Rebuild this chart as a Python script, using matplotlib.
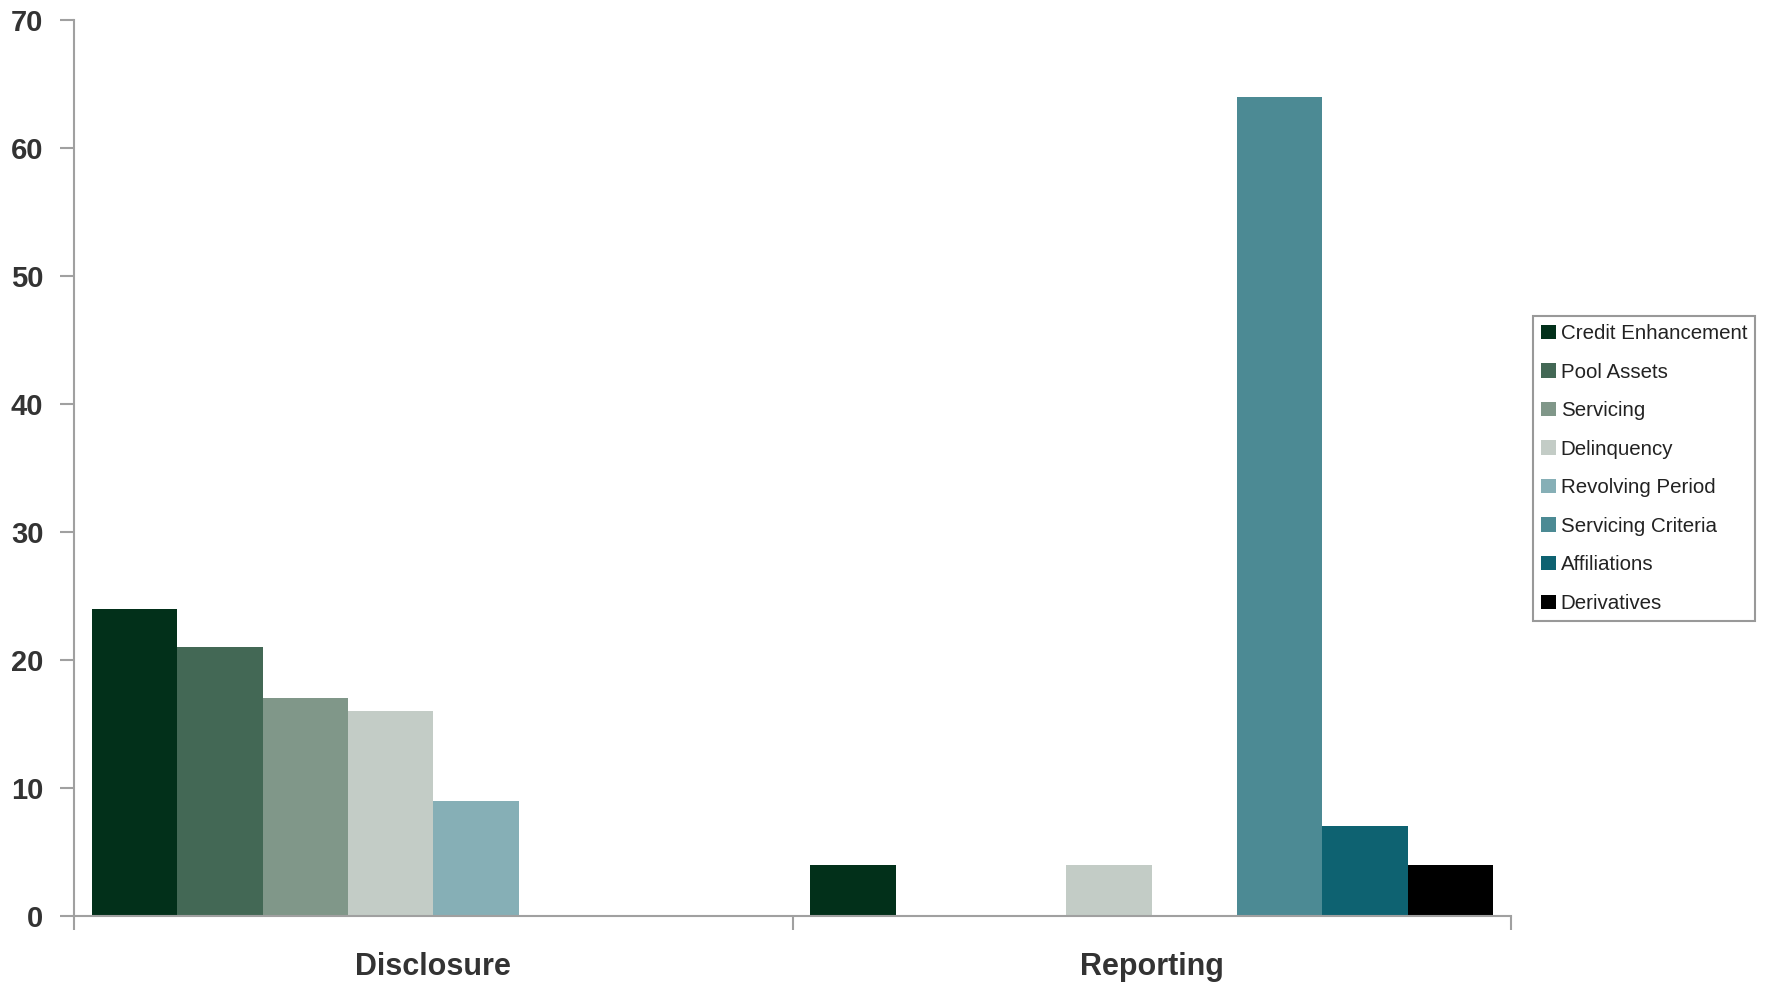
import numpy as np
import matplotlib
matplotlib.use("Agg")
import matplotlib.pyplot as plt
from matplotlib.patches import Patch

categories = ["Disclosure", "Reporting"]
series_names = ["Credit Enhancement", "Pool Assets", "Servicing", "Delinquency",
                "Revolving Period", "Servicing Criteria", "Affiliations", "Derivatives"]
credit_enhancement = [24, 4]
pool_assets = [21, 0]
servicing = [17, 0]
delinquency = [16, 4]
revolving_period = [9, 0]
servicing_criteria = [0, 64]
affiliations = [0, 7]
derivatives = [0, 4]
series_values = [credit_enhancement, pool_assets, servicing, delinquency,
                 revolving_period, servicing_criteria, affiliations, derivatives]
colors = ["#02301A", "#436855", "#809789", "#C3CCC6",
          "#86AFB6", "#4C8A94", "#0E6271", "#000000"]
yticks = [0, 10, 20, 30, 40, 50, 60, 70]

plt.rcParams['font.family'] = ['Liberation Sans', 'DejaVu Sans']

fig = plt.figure(figsize=(17.67, 9.86), dpi=100)
ax = fig.add_axes([74/1767, 1-916/986, (1511-74)/1767, (916-20)/986])

x = np.arange(len(categories))
n = len(series_names)
w = 0.95 / n
for i, (name, vals, c) in enumerate(zip(series_names, series_values, colors)):
    offs = (i - (n - 1) / 2) * w
    ax.bar(x + offs, vals, width=w, color=c, label=name, linewidth=0)

ax.set_xlim(-0.5, 1.5)
ax.set_ylim(0, 70)
ax.set_yticks(yticks)
ax.set_yticklabels([str(t) for t in yticks], fontsize=21, fontweight='bold', color='#333333')
ax.set_xticks(x)
ax.set_xticklabels(categories, fontsize=22, fontweight='bold', color='#333333')
ax.set_xticks([-0.5, 0.5, 1.5], minor=True)
ax.tick_params(axis='x', which='major', length=0, pad=26)
ax.tick_params(axis='x', which='minor', length=10, width=1.5, color='#a0a0a0', direction='out')
ax.tick_params(axis='y', which='major', length=10, width=1.5, color='#a0a0a0', direction='out', pad=12)

for s in ['top', 'right']:
    ax.spines[s].set_visible(False)
for s in ['left', 'bottom']:
    ax.spines[s].set_color('#a0a0a0')
    ax.spines[s].set_linewidth(1.5)

handles = [Patch(facecolor=c, edgecolor='none', label=nm) for nm, c in zip(series_names, colors)]
leg = fig.legend(handles=handles, loc='upper left',
                 bbox_to_anchor=(1533/1767, 1-316/986), bbox_transform=fig.transFigure,
                 borderaxespad=0, fontsize=14.8, frameon=True, fancybox=False,
                 handlelength=0.7, handleheight=0.7, handletextpad=0.25,
                 labelspacing=0.95, borderpad=0.4)
leg.get_frame().set_edgecolor('#808080')
leg.get_frame().set_linewidth(1.5)
for t in leg.get_texts():
    t.set_color('#222222')

fig.savefig("out.png", dpi=100)
